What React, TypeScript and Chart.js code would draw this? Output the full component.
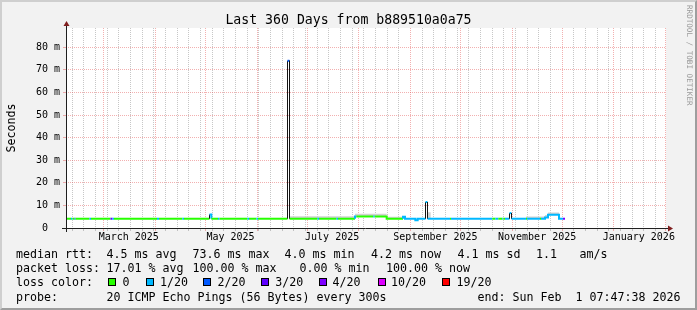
import React, { useEffect, useRef } from 'react';
import { Chart, registerables } from 'chart.js';

Chart.register(...registerables);

const MONO = '"DejaVu Sans Mono", monospace';
const DAY = 86400000;
const END_TIME = Date.UTC(2026, 1, 1, 7, 47, 38);
const SPAN_DAYS = 360;
const START_TIME = END_TIME - SPAN_DAYS * DAY;

// loss legend
const LOSS_STEPS = [0, 1, 2, 3, 4, 10, 19];
const LOSS_LABELS = ['0', '1/20', '2/20', '3/20', '4/20', '10/20', '19/20'];
const LOSS_COLORS = ['#26ff00', '#00b8ff', '#0059ff', '#5e00ff', '#7e00ff', '#dd00ff', '#ff0000'];
const EDGE = -1; // dark edge of a spike

// median rtt line: day since start, rtt in ms, lost pings (of 20) for the segment that starts here
const medDays = [
  0.4, 3.0, 3.9, 5.1, 5.7, 14.1, 15.0, 26.7, 27.9, 28.8, 54.6, 55.8, 69.9, 70.8,
  86.1, 86.1, 87.2, 87.2, 91.2, 92.1, 108.9, 109.8, 114.3, 115.2,
  132.9, 132.9, 134.1, 134.1, 150.9, 151.8, 162.3, 163.2,
  173.4, 173.4, 174.2, 184.4, 185.2, 192.4, 192.4,
  202.2, 202.2, 203.4, 203.4, 209.6, 209.6, 211.0, 211.0,
  215.7, 215.7, 216.9, 216.9, 230.4, 231.0, 255.8, 257.6, 259.4, 261.8, 262.4, 263.4,
  266.1, 266.1, 267.3, 267.3, 276.0, 276.6, 284.4, 285.0,
  287.4, 287.4, 289.2, 289.2, 295.8, 295.8, 298.2, 299.4,
];
const medRtt = [
  4.1, 4.1, 4.1, 4.1, 4.1, 4.1, 4.1, 4.1, 4.1, 4.1, 4.1, 4.1, 4.1, 4.1,
  4.1, 6.0, 6.0, 4.1, 4.1, 4.1, 4.1, 4.1, 4.1, 4.1,
  4.1, 74.0, 74.0, 4.1, 4.1, 4.1, 4.1, 4.1,
  4.1, 5.1, 5.1, 5.1, 5.1, 5.1, 4.1,
  4.1, 5.0, 5.0, 4.1, 4.1, 3.4, 3.4, 4.1,
  4.1, 11.5, 11.5, 4.1, 4.1, 4.1, 4.1, 4.1, 4.1, 4.1, 4.1, 4.1,
  4.1, 6.6, 6.6, 4.1, 4.1, 4.1, 4.1, 4.1,
  4.1, 4.6, 4.6, 5.9, 5.9, 4.1, 4.1, 4.1,
];
const medLoss = [
  0, 1, 0, 2, 0, 1, 0, 3, 1, 0, 1, 0, 1, 0,
  EDGE, 1, 1, 0, 1, 0, 1, 0, 1, 0,
  EDGE, 2, EDGE, 0, 1, 0, 1, 0,
  1, 1, 0, 1, 0, 0, 0,
  1, 1, 1, 1, 1, 1, 1, 1,
  EDGE, 1, EDGE, 1, 0, 1, 0, 1, 0, 1, 0, 1,
  EDGE, 1, EDGE, 1, 0, 1, 0, 1,
  1, 1, 1, 1, 1, 1, 4, 4,
];

// smoke (spread of the pings)
const smokeDays = [0, 134.1, 134.1, 173.4, 173.4, 192.4, 192.4, 201.6, 201.6, 216.9, 216.9, 218.8, 218.8, 276.0, 276.0, 287.4, 287.4, 289.2, 289.2, 295.8, 295.8, 299.4];
const smokeLo = [4.1, 4.1, 4.1, 4.1, 5.1, 5.1, 4.1, 4.1, 4.1, 4.1, 4.1, 4.1, 4.1, 4.1, 4.1, 4.1, 4.6, 4.6, 5.9, 5.9, 4.1, 4.1];
const smokeHi = [4.1, 4.1, 5.2, 5.2, 6.3, 6.3, 5.0, 5.0, 4.1, 4.1, 7.0, 7.0, 4.1, 4.1, 5.1, 5.1, 5.7, 5.7, 6.9, 6.9, 4.1, 4.1];

// axes
const Y_MAX = 88.5;
const yTickValues = [0, 5, 10, 15, 20, 25, 30, 35, 40, 45, 50, 55, 60, 65, 70, 75, 80, 85];
const xLabelNames = ['March 2025', 'May 2025', 'July 2025', 'September 2025', 'November 2025', 'January 2026'];
const xLabelMonths = [[2025, 2], [2025, 4], [2025, 6], [2025, 8], [2025, 10], [2026, 0]];

const GRID = 'rgba(143,143,143,0.5)';
const MGRID = 'rgba(226,80,80,0.45)';
const AXIS = '#1f1f1f';
const ARROW = '#801f1f';

const toDay = (t: number) => (t - START_TIME) / DAY;

function buildXTicks() {
  const ticks: any[] = [];
  const majors: number[] = [];
  let y = 2025, m = 2;
  for (;;) {
    const t = Date.UTC(y, m, 1);
    if (t > END_TIME) break;
    majors.push(t);
    ticks.push({ value: toDay(t), kind: 'major' });
    m++;
    if (m > 11) { m = 0; y++; }
  }
  for (let t = Date.UTC(2025, 1, 10); t < END_TIME; t += 7 * DAY) {
    if (majors.indexOf(t) < 0) ticks.push({ value: toDay(t), kind: 'minor' });
  }
  xLabelMonths.forEach(([yy, mm], i) => {
    ticks.push({ value: toDay(Date.UTC(yy, mm, 1) + 15 * DAY), kind: 'label', text: xLabelNames[i] });
  });
  ticks.sort((a, b) => a.value - b.value);
  return ticks;
}

function lossColor(v: number) {
  if (v === EDGE) return '#141414';
  const i = LOSS_STEPS.indexOf(v);
  return i >= 0 ? LOSS_COLORS[i] : '#000';
}

const plotBg = {
  id: 'plotBg',
  beforeDraw(chart: any) {
    const { ctx, chartArea: a } = chart;
    ctx.save();
    ctx.fillStyle = '#ffffff';
    ctx.fillRect(a.left, a.top, a.right - a.left, a.bottom - a.top);
    ctx.restore();
  },
};

const axesPlugin = {
  id: 'rrdAxes',
  afterDatasetsDraw(chart: any) {
    const { ctx, chartArea: a } = chart;
    const x0 = Math.round(a.left) + 0.5;
    const y0 = Math.round(a.bottom) + 0.5;
    ctx.save();
    ctx.strokeStyle = AXIS;
    ctx.lineWidth = 1;
    ctx.beginPath();
    ctx.moveTo(a.left - 4, y0);
    ctx.lineTo(a.right + 3, y0);
    ctx.moveTo(x0, a.bottom + 4);
    ctx.lineTo(x0, a.top - 3);
    ctx.stroke();
    ctx.fillStyle = ARROW;
    ctx.beginPath();
    ctx.moveTo(a.right + 2, y0 - 3);
    ctx.lineTo(a.right + 7, y0);
    ctx.lineTo(a.right + 2, y0 + 3);
    ctx.closePath();
    ctx.fill();
    ctx.beginPath();
    ctx.moveTo(x0 - 3, a.top - 2);
    ctx.lineTo(x0, a.top - 7);
    ctx.lineTo(x0 + 3, a.top - 2);
    ctx.closePath();
    ctx.fill();
    ctx.restore();
  },
};

const T = (p: { x: number; y: number; s: string; size?: number; color?: string }) => (
  <div
    style={{
      position: 'absolute',
      left: p.x,
      top: p.y,
      fontSize: p.size ?? 11.63,
      lineHeight: '14px',
      whiteSpace: 'pre',
      color: p.color ?? '#000',
    }}
  >
    {p.s}
  </div>
);

const row1 = [
  [16, 'median rtt:'], [106.6, '4.5 ms avg'], [192.6, '73.6 ms max'], [284.4, '4.0 ms min'],
  [371, '4.2 ms now'], [457.6, '4.1 ms sd'], [536, '1.1'], [579.4, 'am/s'],
];
const row2 = [
  [16, 'packet loss:'], [106.6, '17.01 % avg'], [192.6, '100.00 % max'], [299.4, '0.00 % min'], [386, '100.00 % now'],
];
const row4 = [
  [16, 'probe:'], [106.6, '20 ICMP Echo Pings (56 Bytes) every 300s'], [477.6, 'end: Sun Feb  1 07:47:38 2026'],
];
const lossBoxX = [108, 146, 203, 261, 319, 378, 442];
const lossTextX = [122.6, 160, 217.6, 275.3, 332.6, 391, 456.6];

export default function App() {
  const ref = useRef<HTMLCanvasElement>(null);

  useEffect(() => {
    document.body.style.margin = '0';
    const canvas = ref.current;
    if (!canvas) return;
    const xTicks = buildXTicks();
    const chart = new Chart(canvas, {
      type: 'line',
      data: {
        datasets: [
          {
            label: 'median',
            data: medDays.map((d, i) => ({ x: d, y: medRtt[i] })),
            borderColor: LOSS_COLORS[0],
            borderWidth: 2,
            pointRadius: 0,
            fill: false,
            tension: 0,
            borderCapStyle: 'butt',
            segment: {
              borderColor: (c: any) => lossColor(medLoss[c.p0DataIndex]),
              borderWidth: (c: any) => (medLoss[c.p0DataIndex] === EDGE ? 1 : 2),
            },
          } as any,
          {
            label: 'smokeLo',
            data: smokeDays.map((d, i) => ({ x: d, y: smokeLo[i] })),
            borderColor: 'transparent',
            borderWidth: 0,
            pointRadius: 0,
            fill: false,
          },
          {
            label: 'smokeHi',
            data: smokeDays.map((d, i) => ({ x: d, y: smokeHi[i] })),
            borderColor: 'transparent',
            borderWidth: 0,
            pointRadius: 0,
            fill: 1,
            backgroundColor: '#d2d2d2',
          },
        ],
      },
      options: {
        animation: false,
        responsive: false,
        maintainAspectRatio: false,
        devicePixelRatio: 1,
        events: [],
        layout: { padding: { top: 28, right: 31, left: 0, bottom: 0 } },
        plugins: { legend: { display: false }, tooltip: { enabled: false }, title: { display: false } },
        scales: {
          x: {
            type: 'linear',
            min: 0,
            max: SPAN_DAYS,
            afterBuildTicks: (s: any) => { s.ticks = xTicks.map((t) => ({ ...t })); },
            afterFit: (s: any) => { s.height = 82; },
            grid: {
              color: (c: any) => (c.tick?.kind === 'major' ? MGRID : c.tick?.kind === 'minor' ? GRID : 'transparent'),
              tickColor: (c: any) => (c.tick?.kind === 'major' ? MGRID : c.tick?.kind === 'minor' ? GRID : 'transparent'),
              lineWidth: 1,
              tickLength: 3,
              drawTicks: true,
            },
            border: { display: false, dash: [1, 1] },
            ticks: {
              autoSkip: false,
              maxRotation: 0,
              minRotation: 0,
              padding: 0,
              color: '#000',
              font: { family: MONO, size: 10 },
              callback: (_v: any, i: number, ticks: any[]) => (ticks[i].kind === 'label' ? ticks[i].text : ''),
            },
          },
          y: {
            type: 'linear',
            min: 0,
            max: Y_MAX,
            afterBuildTicks: (s: any) => { s.ticks = yTickValues.map((v) => ({ value: v })); },
            afterFit: (s: any) => { s.width = 66; },
            grid: {
              color: (c: any) => (c.tick && c.tick.value % 10 === 0 ? MGRID : GRID),
              tickColor: (c: any) => (c.tick && c.tick.value % 10 === 0 ? MGRID : GRID),
              lineWidth: 1,
              tickLength: 3,
            },
            border: { display: false, dash: [1, 1] },
            ticks: {
              padding: 3,
              color: '#000',
              font: { family: MONO, size: 10 },
              callback: (v: any) => {
                const n = Number(v);
                if (n % 10 !== 0) return '';
                return n === 0 ? '0  ' : `${n} m`;
              },
            },
          },
        },
      },
      plugins: [plotBg, axesPlugin],
    } as any);
    return () => chart.destroy();
  }, []);

  return (
    <div
      style={{
        position: 'relative',
        width: 697,
        height: 310,
        background: '#f2f2f2',
        overflow: 'hidden',
        fontFamily: MONO,
        color: '#000',
      }}
    >
      <div
        style={{
          position: 'absolute',
          inset: 0,
          boxSizing: 'border-box',
          borderTop: '2px solid #cfcfcf',
          borderLeft: '2px solid #cfcfcf',
          borderBottom: '2px solid #9e9e9e',
          borderRight: '2px solid #9e9e9e',
        }}
      />
      <canvas ref={ref} width={697} height={310} style={{ position: 'absolute', left: 0, top: 0, display: 'block' }} />
      <div
        style={{
          position: 'absolute',
          left: 0,
          top: 11.5,
          width: 697,
          textAlign: 'center',
          fontSize: 13.2,
          lineHeight: '16px',
          whiteSpace: 'pre',
        }}
      >
        Last 360 Days from b889510a0a75
      </div>
      <div
        style={{
          position: 'absolute',
          left: 10.5 - 50,
          top: 127.5 - 7,
          width: 100,
          height: 14,
          lineHeight: '14px',
          fontSize: 11.63,
          textAlign: 'center',
          transform: 'rotate(-90deg)',
        }}
      >
        Seconds
      </div>
      <div
        style={{
          position: 'absolute',
          left: 685,
          top: 5,
          width: 8,
          fontSize: 7.6,
          lineHeight: '8px',
          writingMode: 'vertical-rl',
          whiteSpace: 'pre',
          color: '#9a9a9a',
        }}
      >
        RRDTOOL / TOBI OETIKER
      </div>
      {row1.map(([x, s], i) => <T key={'r1' + i} x={x as number} y={247.3} s={s as string} />)}
      {row2.map(([x, s], i) => <T key={'r2' + i} x={x as number} y={261.3} s={s as string} />)}
      <T x={16} y={275.3} s="loss color:" />
      {LOSS_LABELS.map((l, i) => (
        <React.Fragment key={'l' + i}>
          <div
            style={{
              position: 'absolute',
              left: lossBoxX[i],
              top: 278,
              width: 8,
              height: 8,
              boxSizing: 'border-box',
              border: '1px solid #000',
              background: LOSS_COLORS[i],
            }}
          />
          <T x={lossTextX[i]} y={275.3} s={l} />
        </React.Fragment>
      ))}
      {row4.map(([x, s], i) => <T key={'r4' + i} x={x as number} y={289.6} s={s as string} />)}
    </div>
  );
}
